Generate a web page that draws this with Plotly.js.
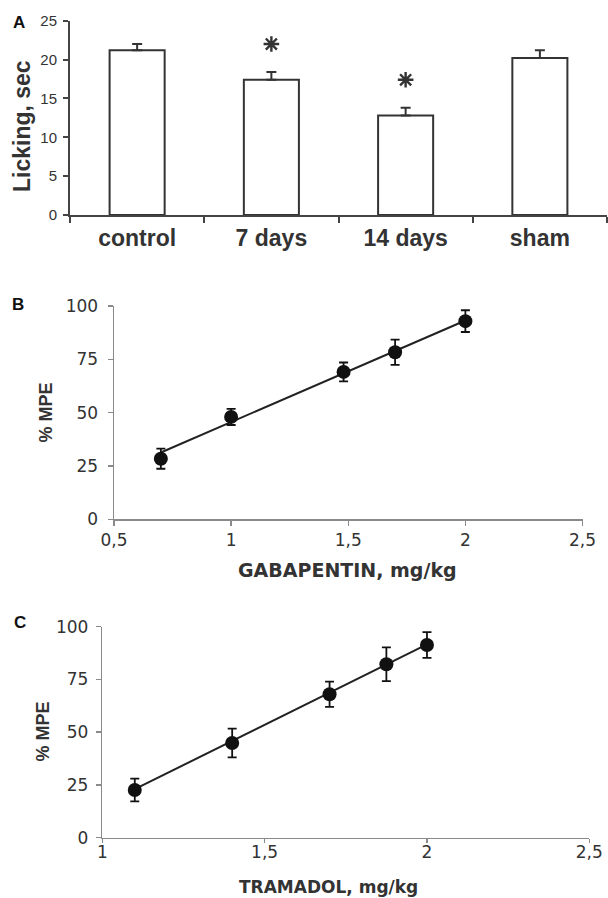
<!DOCTYPE html>
<html>
<head>
<meta charset="utf-8">
<script src="https://cdn.plot.ly/plotly-3.0.1.min.js"></script>
<style>html,body{margin:0;padding:0;background:#fff;}#chart{width:608px;height:898px;}</style>
</head>
<body>
<div id="chart"></div>
<script>
// Panel A data
const groups = ["control", "7 days", "14 days", "sham"];
const licking = [21.2, 17.4, 12.8, 20.2];
const lickingErr = [0.8, 1.0, 1.0, 1.0];
const significant = [false, true, true, false];

// Panel B data
const gabaDose = [0.7, 1.0, 1.48, 1.7, 2.0];
const gabaMPE = [28.4, 48.0, 69.1, 78.3, 92.9];
const gabaErr = [4.7, 3.8, 4.4, 5.9, 5.1];
const gabaFitDose = [0.7, 2.0];
const gabaFitMPE = [31.3, 93.2];

// Panel C data
const tramDose = [1.1, 1.4, 1.7, 1.875, 2.0];
const tramMPE = [22.6, 44.9, 68.0, 82.2, 91.3];
const tramErr = [5.4, 6.8, 6.0, 8.0, 6.1];
const tramFitDose = [1.1, 2.0];
const tramFitMPE = [23.0, 91.6];

const W = 608, H = 898;
const px = v => v / W;
const py = v => 1 - v / H;

const AR = "Liberation Sans, Arial, sans-serif";
const DJ = "DejaVu Sans, sans-serif";
const dark = "#333";

const starGap = 3.6;
const starX = [], starY = [];
groups.forEach((g, i) => { if (significant[i]) { starX.push(g); starY.push(licking[i] + lickingErr[i] + starGap); } });

const traces = [
  {
    type: "bar", x: groups, y: licking, xaxis: "x", yaxis: "y",
    width: 0.41,
    marker: { color: "#fff", line: { color: dark, width: 2 } },
    error_y: { type: "data", symmetric: false, array: lickingErr, arrayminus: lickingErr.map(() => 0), color: dark, thickness: 2, width: 5 },
    showlegend: false, hoverinfo: "skip"
  },
  {
    type: "scatter", mode: "markers", x: starX, y: starY, xaxis: "x", yaxis: "y",
    marker: { symbol: "asterisk-open", size: 13, color: dark, line: { color: dark, width: 2.4 } },
    showlegend: false, hoverinfo: "skip"
  },
  {
    type: "scatter", mode: "lines", x: gabaFitDose, y: gabaFitMPE, xaxis: "x2", yaxis: "y2",
    line: { color: "#222", width: 2 }, showlegend: false, hoverinfo: "skip"
  },
  {
    type: "scatter", mode: "markers", x: gabaDose, y: gabaMPE, xaxis: "x2", yaxis: "y2",
    marker: { color: "#111", size: 14 },
    error_y: { type: "data", array: gabaErr, color: "#111", thickness: 1.8, width: 4.5 },
    showlegend: false, hoverinfo: "skip"
  },
  {
    type: "scatter", mode: "lines", x: tramFitDose, y: tramFitMPE, xaxis: "x3", yaxis: "y3",
    line: { color: "#222", width: 2 }, showlegend: false, hoverinfo: "skip"
  },
  {
    type: "scatter", mode: "markers", x: tramDose, y: tramMPE, xaxis: "x3", yaxis: "y3",
    marker: { color: "#111", size: 14 },
    error_y: { type: "data", array: tramErr, color: "#111", thickness: 1.8, width: 4.5 },
    showlegend: false, hoverinfo: "skip"
  }
];

const grayAxis = {
  showline: true, linecolor: "#8a8a8a", linewidth: 1.5,
  ticks: "outside", ticklen: 5, tickwidth: 1.5, tickcolor: "#8a8a8a",
  showgrid: false, zeroline: false, fixedrange: true,
  tickfont: { family: DJ, size: 17, color: dark }
};

const layout = {
  width: W, height: H,
  margin: { l: 0, r: 0, t: 0, b: 0, pad: 0 },
  paper_bgcolor: "#fff", plot_bgcolor: "#fff",
  separators: ", ",
  showlegend: false,
  xaxis: {
    domain: [px(70), px(607)], anchor: "y", type: "category", range: [-0.5, 3.5],
    showline: true, linecolor: "#444", linewidth: 2,
    ticks: "outside", tickson: "boundaries", ticklen: 6, tickwidth: 2, tickcolor: "#444",
    showgrid: false, zeroline: false, fixedrange: true,
    tickfont: { family: AR, size: 23, color: dark, weight: "bold" }, ticklabelstandoff: 1
  },
  yaxis: {
    domain: [py(215), py(20.7)], anchor: "x", range: [0, 25], dtick: 5,
    showline: true, linecolor: "#444", linewidth: 2,
    ticks: "outside", ticklen: 5, tickwidth: 2, tickcolor: "#444",
    showgrid: false, zeroline: false, fixedrange: true,
    tickfont: { family: AR, size: 15, color: dark }, ticklabelstandoff: 3
  },
  xaxis2: Object.assign({}, grayAxis, { domain: [px(114), px(582.5)], anchor: "y2", range: [0.5, 2.5], dtick: 0.5, tick0: 0.5, ticklabelstandoff: 0 }),
  yaxis2: Object.assign({}, grayAxis, { domain: [py(519.3), py(306)], anchor: "x2", range: [0, 100], dtick: 25, ticklabelstandoff: 6 }),
  xaxis3: Object.assign({}, grayAxis, { domain: [px(102.3), px(589.3)], anchor: "y3", range: [1, 2.5], dtick: 0.5, tick0: 1, ticklen: 4, ticklabelstandoff: -6 }),
  yaxis3: Object.assign({}, grayAxis, { domain: [py(837.7), py(626.7)], anchor: "x3", range: [0, 100], dtick: 25, ticklabelstandoff: 4 }),
  annotations: [
    { text: "A", x: px(19), y: py(23), xref: "paper", yref: "paper", showarrow: false, xanchor: "center", yanchor: "middle", font: { family: AR, size: 17, color: "#111", weight: "bold" } },
    { text: "B", x: px(18), y: py(304), xref: "paper", yref: "paper", showarrow: false, xanchor: "center", yanchor: "middle", font: { family: AR, size: 17, color: "#111", weight: "bold" } },
    { text: "C", x: px(20), y: py(622), xref: "paper", yref: "paper", showarrow: false, xanchor: "center", yanchor: "middle", font: { family: AR, size: 17, color: "#111", weight: "bold" } },
    { text: "Licking, sec", textangle: -90, x: px(22), y: py(126), xref: "paper", yref: "paper", showarrow: false, xanchor: "center", yanchor: "middle", font: { family: AR, size: 23, color: dark, weight: "bold" } },
    { text: "% MPE", textangle: -90, x: px(45.5), y: py(413), xref: "paper", yref: "paper", showarrow: false, xanchor: "center", yanchor: "middle", font: { family: AR, size: 18, color: dark, weight: "bold" } },
    { text: "% MPE", textangle: -90, x: px(42.6), y: py(732), xref: "paper", yref: "paper", showarrow: false, xanchor: "center", yanchor: "middle", font: { family: AR, size: 18, color: dark, weight: "bold" } },
    { text: "GABAPENTIN, mg/kg", x: px(347), y: py(570), xref: "paper", yref: "paper", showarrow: false, xanchor: "center", yanchor: "middle", font: { family: DJ, size: 19, color: dark, weight: "bold" } },
    { text: "TRAMADOL, mg/kg", x: px(328), y: py(887), xref: "paper", yref: "paper", showarrow: false, xanchor: "center", yanchor: "middle", font: { family: DJ, size: 17, color: dark, weight: "bold" } }
  ]
};

Plotly.newPlot("chart", traces, layout, { displayModeBar: false, staticPlot: true });
</script>
</body>
</html>
